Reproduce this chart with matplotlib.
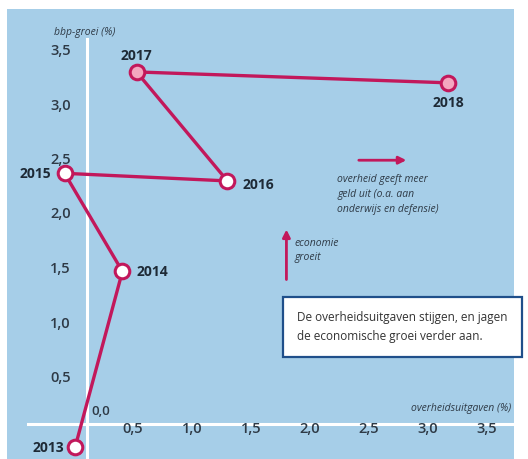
import matplotlib
matplotlib.use("Agg")
import matplotlib.pyplot as plt
from matplotlib.transforms import ScaledTranslation
from matplotlib.patches import Rectangle

# ------------------ data ------------------
jaren = ["2013", "2014", "2015", "2016", "2017", "2018"]
overheidsuitgaven = [-0.10, 0.30, -0.19, 1.19, 0.42, 3.06]
bbp_groei = [-0.21, 1.40, 2.30, 2.23, 3.23, 3.13]
gevuld = [False, False, False, False, True, True]

x_ticks = [0.5, 1.0, 1.5, 2.0, 2.5, 3.0, 3.5]
y_ticks = [0.5, 1.0, 1.5, 2.0, 2.5, 3.0, 3.5]
tick_labels = ["0,5", "1,0", "1,5", "2,0", "2,5", "3,0", "3,5"]

# label offsets (points) per year
label_offsets = {"2013": (-8, 0, "right", "center"),
                 "2014": (10, 0, "left", "center"),
                 "2015": (-10, 0, "right", "center"),
                 "2016": (11, -2, "left", "center"),
                 "2017": (0, 12, "center", "center"),
                 "2018": (0, -14, "center", "center")}

# ------------------ style ------------------
blauw = "#a6cee8"
rood = "#c2185b"
roze = "#f4a6bf"
donker = "#1e2a36"
tekst = "#2e3a46"
plt.rcParams["font.family"] = ["Open Sans", "DejaVu Sans"]

fig = plt.figure(figsize=(5.28, 4.60), dpi=100)
fig.patch.set_facecolor("white")
W, H = 528, 460
ax = fig.add_axes([7 / W, 0, (514 - 7) / W, 450 / H])
ax.set_facecolor(blauw)
for s in ax.spines.values():
    s.set_visible(False)

ax.set_xlim((7 - 87) / 118, (514 - 87) / 118)
ax.set_ylim((425 - 460) / 109, (425 - 10) / 109)

# white axis lines
ax.axvline(0, color="white", lw=2.2, ymax=420 / 450, zorder=1)
ax.axhline(0, color="white", lw=2.2, xmin=21 / 507, zorder=1)

# line + markers
ax.plot(overheidsuitgaven, bbp_groei, color=rood, lw=2.4, zorder=2, solid_capstyle="round")
for xv, yv, f in zip(overheidsuitgaven, bbp_groei, gevuld):
    ax.plot(xv, yv, "o", ms=10.5, mfc=roze if f else "white", mec=rood, mew=2.2, zorder=3)

for jaar, xv, yv in zip(jaren, overheidsuitgaven, bbp_groei):
    dx, dy, ha, va = label_offsets[jaar]
    ax.annotate(jaar, (xv, yv), xytext=(dx, dy), textcoords="offset points",
                ha=ha, va=va, fontsize=10, fontweight="bold", color=donker)

# ticks
ax.set_xticks(x_ticks, tick_labels)
ax.set_yticks(y_ticks, tick_labels)
ax.tick_params(axis="both", length=0, labelsize=10.5, labelcolor=tekst)
ax.tick_params(axis="x", pad=-27)
ax.tick_params(axis="y", pad=-46)
for lab in ax.get_xticklabels():
    lab.set_fontweight("semibold")
    lab.set_transform(lab.get_transform() + ScaledTranslation(-13 / 100, 0, fig.dpi_scale_trans))
for lab in ax.get_yticklabels():
    lab.set_fontweight("semibold")
    lab.set_transform(lab.get_transform() + ScaledTranslation(0, -6 / 100, fig.dpi_scale_trans))

ax.annotate("0,0", (0, 0), xytext=(3, 5), textcoords="offset points", ha="left", va="bottom",
            fontsize=9.5, fontweight="semibold", color=tekst)

# axis titles
ax.annotate("bbp-groei (%)", (0, 1), xycoords=("data", "axes fraction"), xytext=(-24, -16),
            textcoords="offset points", ha="left", va="center", fontsize=7.5,
            fontstyle="italic", color=tekst)
ax.annotate("overheidsuitgaven (%)", (3.5, 0), xytext=(8, 12), textcoords="offset points",
            ha="right", va="center", fontsize=7.5, fontstyle="italic", color=tekst)

# explanatory arrows
ax.annotate("", xy=(2.73, 2.42), xytext=(2.28, 2.42),
            arrowprops=dict(arrowstyle="-|>", color=rood, lw=2, mutation_scale=11))
ax.text(2.12, 2.30, "overheid geeft meer\ngeld uit (o.a. aan\nonderwijs en defensie)",
        ha="left", va="top", fontsize=7.5, fontstyle="italic", color=tekst, linespacing=1.5)
ax.annotate("", xy=(1.69, 1.81), xytext=(1.69, 1.30),
            arrowprops=dict(arrowstyle="-|>", color=rood, lw=2, mutation_scale=11))
ax.text(1.76, 1.60, "economie\ngroeit", ha="left", va="center", fontsize=7.5,
        fontstyle="italic", color=tekst, linespacing=1.45)

# text box
fig.patches.append(Rectangle((283 / W, 1 - 358 / H), (522 - 283) / W, 60 / H,
                             transform=fig.transFigure, facecolor="white",
                             edgecolor="#1f4f8a", lw=1.6, zorder=5))
fig.text(297 / W, 1 - 327 / H, "De overheidsuitgaven stijgen, en jagen\nde economische groei verder aan.",
         ha="left", va="center", fontsize=8.5, color="#333333", linespacing=1.6, zorder=6)

fig.savefig("out.png", dpi=100)
